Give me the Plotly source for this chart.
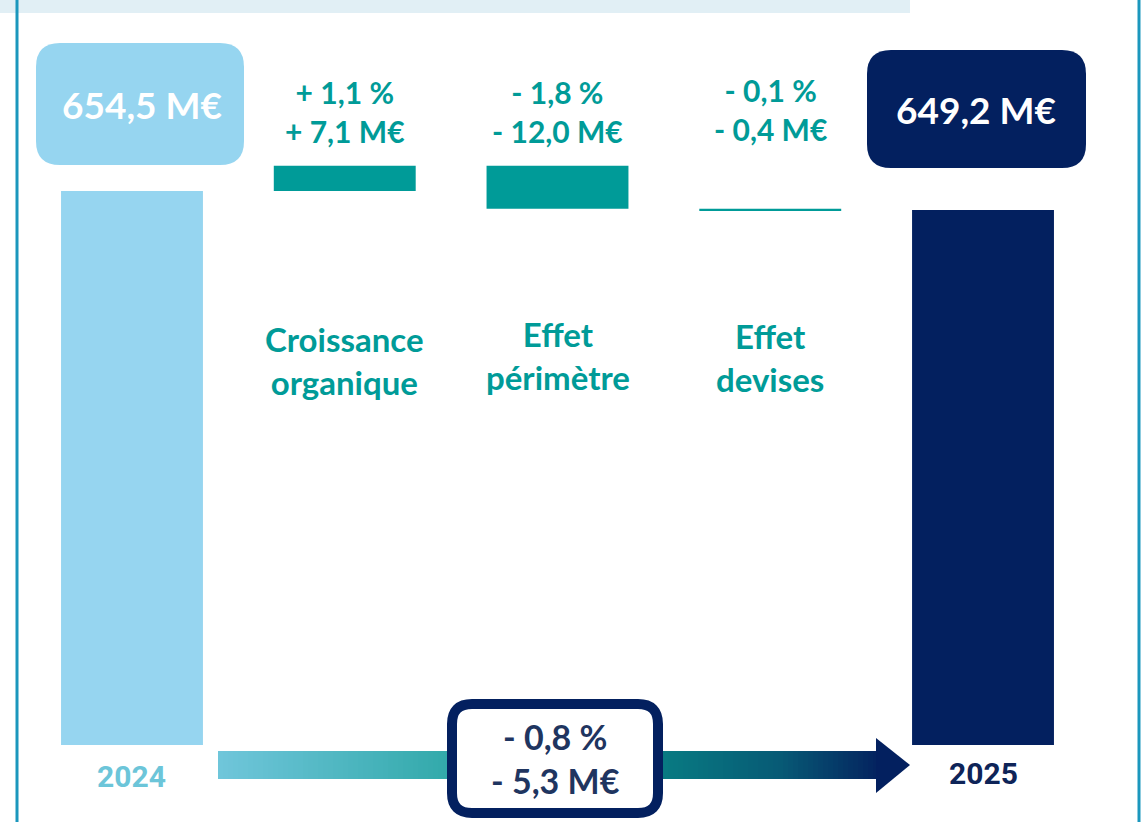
import plotly.graph_objects as go

W, H = 1145, 822

# ---- data -------------------------------------------------------------
years = ["2024", "2025"]
start_value = 654.5
end_value = 649.2
effect_names = ["Croissance<br>organique", "Effet<br>périmètre", "Effet<br>devises"]
effect_values = [7.1, -12.0, -0.4]
effect_pct = [1.1, -1.8, -0.1]
total_change = -5.3
total_pct = -0.8

# ---- colours ----------------------------------------------------------
LIGHT = "#96D5F0"
TEAL = "#009B98"
NAVY = "#03205F"
YEAR_LIGHT = "#6CC5D9"


def fr(v, signed=False):
    s = f"{abs(v):.1f}".replace(".", ",")
    if signed:
        return ("+ " if v > 0 else "- ") + s
    return s


def px(x):
    return x / W


def py(y):
    return 1 - y / H


# ---- waterfall geometry from the data ---------------------------------
bases, heights, colors = [0], [start_value], [LIGHT]
level = start_value
for d in effect_values:
    bases.append(min(level, level + d))
    heights.append(abs(d))
    colors.append(TEAL)
    level += d
bases.append(0)
heights.append(end_value)
colors.append(NAVY)
xs = list(range(len(heights)))

fig = go.Figure(
    go.Bar(
        x=xs, y=heights, base=bases, width=0.667,
        marker=dict(color=colors, line=dict(width=0)),
        hoverinfo="skip",
    )
)

# vertical scale: axis floor at 500 M€ sits on the bar baseline
fig.update_layout(
    width=W, height=H,
    margin=dict(l=0, r=0, t=0, b=0),
    paper_bgcolor="white", plot_bgcolor="white",
    showlegend=False,
    xaxis=dict(range=[-0.6204, 4.7614], visible=False, domain=[0, 1]),
    yaxis=dict(range=[500, 707.8], visible=False, domain=[77 / H, 1]),
)

shapes = []

# header band and frame lines
shapes.append(dict(type="rect", xref="paper", yref="paper",
                   x0=0, x1=px(910), y0=py(13), y1=1,
                   fillcolor="#E1EFF5", line=dict(width=0), layer="below"))
for xl in (17, 1139):
    shapes.append(dict(type="line", xref="paper", yref="paper",
                       x0=px(xl), x1=px(xl), y0=0, y1=1,
                       line=dict(color="#1B97BD", width=3)))


def rounded(x0, y0, x1, y1, r):
    p = [
        f"M{px(x0 + r)},{py(y0)}",
        f"L{px(x1 - r)},{py(y0)}",
        f"Q{px(x1)},{py(y0)} {px(x1)},{py(y0 + r)}",
        f"L{px(x1)},{py(y1 - r)}",
        f"Q{px(x1)},{py(y1)} {px(x1 - r)},{py(y1)}",
        f"L{px(x0 + r)},{py(y1)}",
        f"Q{px(x0)},{py(y1)} {px(x0)},{py(y1 - r)}",
        f"L{px(x0)},{py(y0 + r)}",
        f"Q{px(x0)},{py(y0)} {px(x0 + r)},{py(y0)}",
        "Z",
    ]
    return " ".join(p)


# total value boxes
shapes.append(dict(type="path", xref="paper", yref="paper",
                   path=rounded(36, 43, 244, 165, 24),
                   fillcolor=LIGHT, line=dict(width=0)))
shapes.append(dict(type="path", xref="paper", yref="paper",
                   path=rounded(867, 50, 1086, 168, 24),
                   fillcolor=NAVY, line=dict(width=0)))

# gradient arrow shaft along the bottom
stops = [(218, (0x70, 0xC6, 0xDB)), (440, (0x34, 0xAA, 0xAC)),
         (665, (0x08, 0x7A, 0x82)), (780, (0x07, 0x5A, 0x75)),
         (878, (0x04, 0x23, 0x5F))]


def grad(x):
    for (xa, ca), (xb, cb) in zip(stops[:-1], stops[1:]):
        if xa <= x <= xb:
            t = (x - xa) / (xb - xa)
            c = [round(a + (b - a) * t) for a, b in zip(ca, cb)]
            return "rgb({},{},{})".format(*c)
    return "rgb(4,35,95)"


step = 5
x = 218
while x < 878:
    x2 = min(x + step, 878)
    shapes.append(dict(type="rect", xref="paper", yref="paper",
                       x0=px(x), x1=px(x2 + 0.6), y0=py(779), y1=py(751),
                       fillcolor=grad((x + x2) / 2), line=dict(width=0)))
    x = x2
shapes.append(dict(type="path", xref="paper", yref="paper",
                   path=f"M{px(876)},{py(738)} L{px(910)},{py(765)} L{px(876)},{py(793)} Z",
                   fillcolor=NAVY, line=dict(width=0)))

# overall change box
shapes.append(dict(type="path", xref="paper", yref="paper",
                   path=rounded(452, 704, 658, 813, 20),
                   fillcolor="white", line=dict(color=NAVY, width=10)))

fig.update_layout(shapes=shapes)

ann = []
FONT = "Lato"


def label(text, x, y, size, color, family=FONT, xref="paper"):
    ann.append(dict(xref=xref, yref="paper", x=x, y=py(y),
                    xanchor="center", yanchor="middle", align="center",
                    text=f"<b>{text}</b>", showarrow=False,
                    font=dict(family=family, size=size, color=color)))


# total labels in boxes
label(f"{fr(start_value)} M€", px(142), 104, 37, "white")
label(f"{fr(end_value)} M€", px(976), 109, 37, "white")

# effect values and names
val_y = [111, 111, 109]
name_y = [361, 355, 357]
for i, (name, v, p) in enumerate(zip(effect_names, effect_values, effect_pct)):
    label(f"{fr(p, True)} %<br>{fr(v, True)} M€", i + 1, val_y[i], 30, TEAL, xref="x")
    label(name, i + 1, name_y[i], 33, TEAL, xref="x")

# year labels
label(years[0], 0, 776, 30, YEAR_LIGHT, family="Roboto", xref="x")
label(years[1], 4, 773, 30, "#0E2458", family="Roboto", xref="x")

# overall change label
label(f"{fr(total_pct, True)} %<br>{fr(total_change, True)} M€", px(555), 758, 34, "#1F3560")

fig.update_layout(annotations=ann)

fig.write_html("out.html")
